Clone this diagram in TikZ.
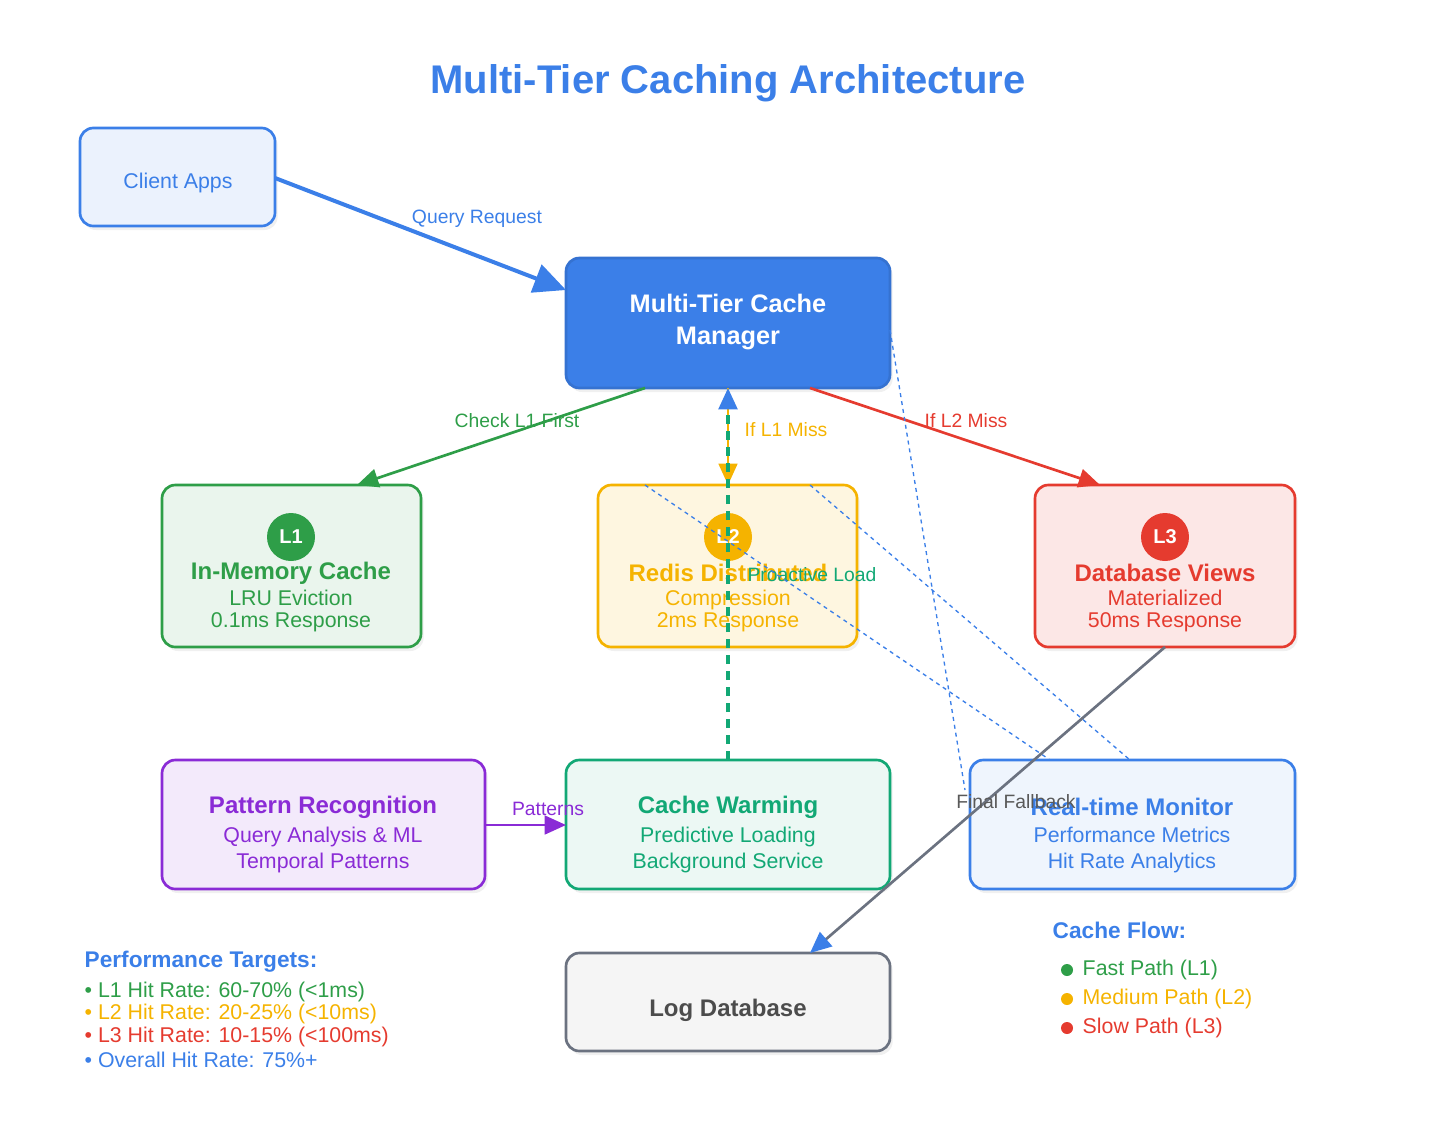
\documentclass[tikz,border=0pt]{standalone}
\usepackage{fontspec}
\setmainfont{Liberation Sans}
\usetikzlibrary{arrows.meta,shadows}
\definecolor{cblue}{HTML}{3B7FE8}
\definecolor{cgreen}{HTML}{2E9E48}
\definecolor{cyel}{HTML}{F5B300}
\definecolor{cred}{HTML}{E53B2F}
\definecolor{cpur}{HTML}{8A2BD6}
\definecolor{cteal}{HTML}{12A875}
\definecolor{cgray}{HTML}{6B7280}
\begin{document}
\begin{tikzpicture}[x=0.75pt,y=-0.75pt,
 box/.style={draw,line width=2pt,rounded corners=10pt,drop shadow={opacity=0.12,shadow xshift=2pt,shadow yshift=-3pt}},
 t/.style={font=\fontsize{16}{20}\selectfont,align=center},
 tb/.style={font=\fontsize{18}{21}\selectfont\bfseries,align=center},
 lab/.style={font=\fontsize{14.5}{16}\selectfont},
 arr/.style={line width=2pt,-{Triangle[length=16pt,width=14pt]}},
 badge/.style={circle,minimum size=36pt,inner sep=0pt,text=white,font=\fontsize{15}{16}\selectfont\bfseries}]
\useasboundingbox (0,0) rectangle (1456,1132);
\node[font=\fontsize{30}{34}\selectfont\bfseries,text=cblue] (title) at (728,83) {Multi-Tier Caching Architecture};
% boxes
\draw[box,cblue,fill=cblue!10] (80,128) rectangle (275,226);
\node[t,text=cblue] (client) at (178,183) {Client Apps};
\coordinate (clientE) at (275,178);
\draw[box,cblue!90!black,fill=cblue] (566,258) rectangle (890,388);
\node[tb,text=white,font=\fontsize{19}{24}\selectfont\bfseries] (mgr) at (728,322) {Multi-Tier Cache\\Manager};
\draw[box,cgreen,fill=cgreen!10] (162,485) rectangle (421,647);
\draw[box,cyel,fill=cyel!12] (598,485) rectangle (857,647);
\draw[box,cred,fill=cred!12] (1035,485) rectangle (1295,647);
\draw[box,cpur,fill=cpur!10] (162,760) rectangle (485,889);
\draw[box,cteal,fill=cteal!8] (566,760) rectangle (890,889);
\draw[box,cblue,fill=cblue!8] (970,760) rectangle (1295,889);
\draw[box,cgray,fill=gray!8] (566,953) rectangle (890,1051);
% badges and texts
\node[badge,fill=cgreen] (b1) at (291,537) {L1};
\node[badge,fill=cyel] (b2) at (728,537) {L2};
\node[badge,fill=cred] (b3) at (1165,537) {L3};
\node[tb,text=cgreen] (l1) at (291,573) {In-Memory Cache};
\node[t,text=cgreen,font=\fontsize{16}{16.5}\selectfont] (l1t) at (291,611) {LRU Eviction\\0.1ms Response};
\node[tb,text=cyel] (l2) at (728,573) {Redis Distributed};
\node[t,text=cyel,font=\fontsize{16}{16.5}\selectfont] (l2t) at (728,611) {Compression\\2ms Response};
\node[tb,text=cred] (l3) at (1165,573) {Database Views};
\node[t,text=cred,font=\fontsize{16}{16.5}\selectfont] (l3t) at (1165,611) {Materialized\\50ms Response};
\node[tb,text=cpur] (pr) at (323,807) {Pattern Recognition};
\node[t,text=cpur] (prt) at (323,850) {Query Analysis \& ML\\Temporal Patterns};
\node[tb,text=cteal] (cw) at (728,807) {Cache Warming};
\node[t,text=cteal] (cwt) at (728,850) {Predictive Loading\\Background Service};
\node[tb,text=cblue] (mon) at (1132,807) {Real-time Monitor};
\node[t,text=cblue] (mont) at (1132,850) {Performance Metrics\\Hit Rate Analytics};
\node[tb,text=gray!60!black] (log) at (728,1010) {Log Database};
% connectors
\coordinate (mgrW) at (566,290); \coordinate (mgrBL) at (645,388); \coordinate (mgrBR) at (810,388);
\coordinate (mgrB) at (728,388); \coordinate (l2T) at (728,485); \coordinate (l1T) at (357,485);
\coordinate (l3T) at (1100,485); \coordinate (cwT) at (728,760); \coordinate (l3B) at (1165,647);
\coordinate (logT) at (810,953); \coordinate (prE) at (485,825); \coordinate (cwW) at (566,825);
\draw[cblue,line width=3pt,-{Triangle[length=24pt,width=22pt]}] (clientE) -- (mgrW);
\node[lab,text=cblue] (qr) at (477,219) {Query Request};
\draw[arr,cgreen] (mgrBL) -- (l1T);
\node[lab,text=cgreen] (lk1) at (517,421) {Check L1 First};
\draw[arr,cred] (mgrBR) -- (l3T);
\node[lab,text=cred] (lk3) at (966,421) {If L2 Miss};
\draw[arr,cyel] (mgrB) -- (l2T);
\node[lab,text=cyel] (lk2) at (786,430) {If L1 Miss};
\draw[cteal,line width=2.5pt,dash pattern=on 7pt off 5pt,-{Triangle[length=16pt,width=14pt,color=cblue,fill=cblue]}] (cwT) -- (mgrB);
\node[lab,text=cteal] (pl) at (812,575) {Proactive Load};
\draw[cblue,line width=1pt,dash pattern=on 3pt off 3pt] (645,485) -- (1050,760);
\draw[cblue,line width=1pt,dash pattern=on 3pt off 3pt] (810,485) -- (1130,760);
\draw[cblue,line width=1pt,dash pattern=on 3pt off 3pt] (890,330) -- (965,790);
\draw[arr,cgray,-{Triangle[length=16pt,width=14pt,color=cblue,fill=cblue]}] (l3B) -- (logT);
\node[lab,text=gray!70!black] (ff) at (1016,802) {Final Fallback};
\draw[arr,cpur] (prE) -- (cwW);
\node[lab,text=cpur] (pt) at (548,809) {Patterns};
% legends
\node[anchor=west,font=\fontsize{17}{19}\selectfont\bfseries,text=cblue] (pf) at (80,962) {Performance Targets:};
\node[anchor=west,font=\fontsize{16}{17}\selectfont,text=cgreen] (p1) at (80,992) {• L1 Hit Rate: 60-70\% (<1ms)};
\node[anchor=west,font=\fontsize{16}{17}\selectfont,text=cyel] (p2) at (80,1014) {• L2 Hit Rate: 20-25\% (<10ms)};
\node[anchor=west,font=\fontsize{16}{17}\selectfont,text=cred] (p3) at (80,1037) {• L3 Hit Rate: 10-15\% (<100ms)};
\node[anchor=west,font=\fontsize{16}{17}\selectfont,text=cblue] (p4) at (80,1060) {• Overall Hit Rate: 75\%+};
\node[anchor=west,font=\fontsize{17}{19}\selectfont\bfseries,text=cblue] (cf) at (1048,930) {Cache Flow:};
\node[circle,fill=cgreen,minimum size=9pt,inner sep=0pt] (d1) at (1067,970) {};
\node[anchor=west,font=\fontsize{16}{17}\selectfont,text=cgreen] (f1) at (1078,970) {Fast Path (L1)};
\node[circle,fill=cyel,minimum size=9pt,inner sep=0pt] (d2) at (1067,999) {};
\node[anchor=west,font=\fontsize{16}{17}\selectfont,text=cyel] (f2) at (1078,999) {Medium Path (L2)};
\node[circle,fill=cred,minimum size=9pt,inner sep=0pt] (d3) at (1067,1028) {};
\node[anchor=west,font=\fontsize{16}{17}\selectfont,text=cred] (f3) at (1078,1028) {Slow Path (L3)};
\end{tikzpicture}
\end{document}
